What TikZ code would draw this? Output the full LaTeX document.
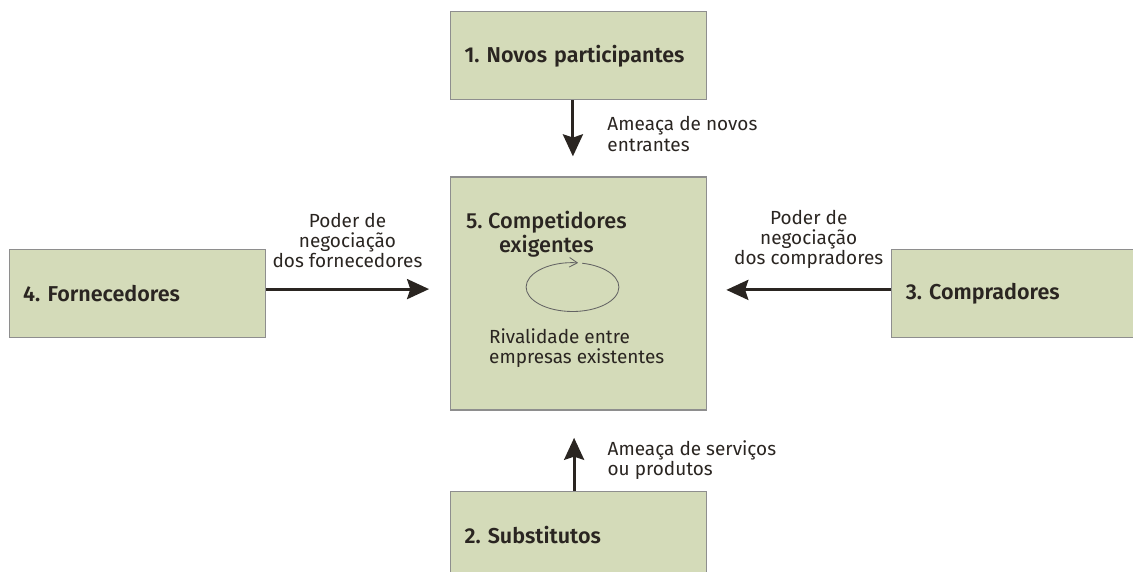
\documentclass[tikz,border=0pt]{standalone}
\usepackage{fontspec}
\setmainfont[Numbers=Proportional]{Fira Sans}
\newfontfamily\semifont[Numbers=Proportional]{Fira Sans SemiBold}
\newfontfamily\midfont[Numbers=Proportional]{Fira Sans Medium}
\usetikzlibrary{arrows.meta,positioning}
\definecolor{leaf}{HTML}{D4DBB9}
\definecolor{rim}{HTML}{8E8E8E}
\definecolor{ink}{HTML}{2A2521}
\frenchspacing

\begin{document}
\begin{tikzpicture}[>={Stealth[length=5.5mm,width=5mm,inset=0.8mm]},node distance=4.6cm,
  force/.style={draw=rim,line width=0.9pt,fill=leaf,text=ink,font=\semifont\fontsize{15.3}{17.7}\selectfont,text width=5.7cm,inner xsep=0.35cm,align=left,minimum height=2.2cm},
  note/.style={text=ink,font=\fontsize{13.5}{14.3}\selectfont,inner sep=0pt},
  push/.style={->,draw=ink,line width=2.2pt}]
  \useasboundingbox (0,0) rectangle (28.325,-14.3);
  \node[force,minimum height=5.825cm] (rival) at (14.4625,-7.3375) {};
  \node[force] (new) [above=1.9cm of rival] {1. Novos participantes};
  \node[force] (supp) [left=of rival] {4. Fornecedores};
  \node[force] (buy) [right=of rival] {3. Compradores};
  \node[force] (subst) [below=2cm of rival] {2. Substitutos};
  \node[note,font=\midfont\fontsize{15.5}{17.7}\selectfont,align=center] (head) [below right=0.85cm and 0.4cm of rival.north west] {5. Competidores\\exigentes};
  \node[note,align=left] (rivtext) [below right=3.8cm and 0.975cm of rival.north west] {Rivalidade entre\\empresas existentes};
  \coordinate (spin) at ([xshift=-0.15cm,yshift=0.16cm]rival.center);
  \draw[draw=rim!70!black,line width=0.6pt,-{Straight Barb[length=2mm,width=2.4mm]}] (spin) ++(78:1.16cm and 0.61cm)
    arc[start angle=78,end angle=-277,x radius=1.16cm,y radius=0.61cm];
  \path ([xshift=-0.14cm]new.south) edge[push] node[note,align=left,right=0.825cm,pos=0.6] {Ameaça de novos\\entrantes} ([xshift=-0.14cm,yshift=0.5cm]rival.north)
  ([yshift=0.11cm]supp.east) edge[push] node[note,align=center,above=0.5cm] {Poder de\\negociação\\dos fornecedores} ([xshift=-0.52cm,yshift=0.11cm]rival.west)
  ([yshift=0.09cm]buy.west) edge[push] node[note,align=center,above=0.5cm] {Poder de\\negociação\\dos compradores} ([xshift=0.48cm,yshift=0.09cm]rival.east)
  ([xshift=-0.11cm]subst.north) edge[push] node[note,align=left,right=0.8cm,pos=0.57] {Ameaça de serviços\\ou produtos} ([xshift=-0.11cm,yshift=-0.68cm]rival.south);
\end{tikzpicture}
\end{document}
